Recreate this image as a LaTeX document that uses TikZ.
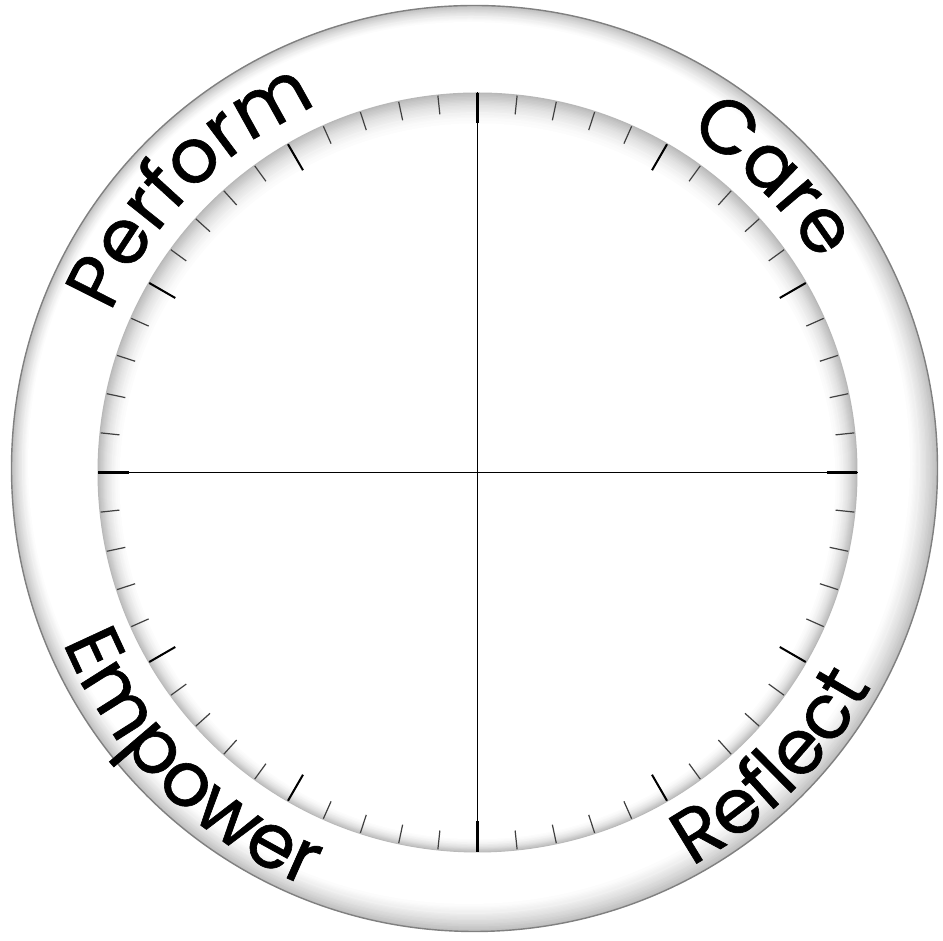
\documentclass[tikz,border=0pt]{standalone}
\usepackage{fontspec}
\newfontfamily\ringfont{Poppins}[FakeBold=0.8]
\usetikzlibrary{calc,decorations.text}
\tikzset{
  tickminor/.style={line width=0.6pt, black!75},
  tickmajor/.style={line width=1pt, black},
  tickcard/.style={line width=1.75pt, black},
  crossline/.style={line width=0.6pt, black},
  ringlabel/.style={decorate, decoration={text along path, text align=center,
     text={|\ringfont\fontsize{38}{40}\selectfont|#1}}}
}
\begin{document}
\begin{tikzpicture}[x=0.5pt,y=0.5pt]
\useasboundingbox (0,0) rectangle (943,941);
\coordinate (co) at (474.5,472.5);
\coordinate (ci) at (477.5,468.5);
% outer ring with soft edge shading
\fill[white] (co) circle[radius=463];
\foreach \i in {0,...,24}{
  \pgfmathsetmacro\rr{463-\i}
  \pgfmathtruncatemacro\pp{26*(1-\i/25)^1.6}
  \fill[black!\pp!white] ($(co)+({-0.25*\i},{0.25*\i})$) circle[radius=\rr];
}
\fill[white] ($(co)+(-6.25,6.25)$) circle[radius=438];
\draw[black!50, line width=0.7pt] (co) circle[radius=463];
% inner disc with inner shadow
\foreach \i in {0,...,26}{
  \pgfmathsetmacro\rr{380-\i}
  \pgfmathtruncatemacro\pp{28*(1-\i/26)^2}
  \fill[black!\pp!white] ($(ci)+(0,{-0.4*\i})$) circle[radius=\rr];
}
% cross lines
\coordinate (W) at ($(ci)+(-380,0)$);
\coordinate (E) at ($(ci)+(380,0)$);
\coordinate (N) at ($(ci)+(0,380)$);
\coordinate (S) at ($(ci)+(0,-380)$);
\draw[crossline] (W) -- (E);
\draw[crossline] (N) -- (S);
% ticks
\foreach \a in {0,6,...,354}
  \draw[tickminor] ($(ci)+(\a:379)$) -- ($(ci)+(\a:360)$);
\foreach \a in {30,60,120,150,210,240,300,330}
  \draw[tickmajor] ($(ci)+(\a:379)$) -- ($(ci)+(\a:349)$);
\foreach \a in {0,90,180,270}
  \draw[tickcard] ($(ci)+(\a:379.5)$) -- ($(ci)+(\a:349)$);
% labels
\path[ringlabel=Perform] ($(ci)+(195:400)$) arc[start angle=195, end angle=75, radius=400];
\path[ringlabel=Care] ($(ci)+(105:400)$) arc[start angle=105, end angle=-15, radius=400];
\path[ringlabel=Empower] ($(ci)+(165:448)$) arc[start angle=165, end angle=285, radius=448];
\path[ringlabel=Reflect] ($(ci)+(255:448)$) arc[start angle=255, end angle=375, radius=448];
\end{tikzpicture}
\end{document}
